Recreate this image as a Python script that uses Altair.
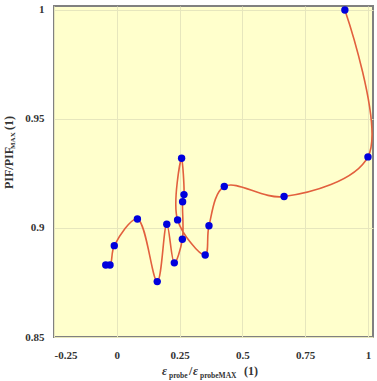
import altair as alt
import pandas as pd

# data (in curve order)
eps_ratio = [-0.044, -0.027, -0.010, 0.082, 0.161, 0.199, 0.229, 0.261, 0.262, 0.2675, 0.258, 0.242, 0.352, 0.367, 0.428, 0.666, 1.000, 0.908]
pif_ratio = [0.8830, 0.8830, 0.8919, 0.9041, 0.8754, 0.9017, 0.8840, 0.8948, 0.9120, 0.9153, 0.9320, 0.9037, 0.8876, 0.9010, 0.9190, 0.9144, 0.9326, 1.0000]
order = list(range(len(eps_ratio)))

x_ticks = [-0.25, 0, 0.25, 0.5, 0.75, 1]
y_ticks = [0.85, 0.9, 0.95, 1]

df = pd.DataFrame({"x": eps_ratio, "y": pif_ratio, "o": order})

W, H = 319, 331
FONT = "Liberation Serif"

xs = alt.Scale(domain=[-0.25, 1.02], nice=False, zero=False)
ys = alt.Scale(domain=[0.85, 1.0018], nice=False, zero=False)

xax = alt.Axis(values=x_ticks, labelExpr="'' + datum.value", title=None,
               grid=True, gridColor="#e6e6bd", ticks=False, domain=False,
               labelFont=FONT, labelFontWeight="bold", labelFontSize=11,
               labelColor="#333333", labelPadding=12)
yax = alt.Axis(values=y_ticks, labelExpr="'' + datum.value", title=None,
               grid=True, gridColor="#e6e6bd", ticks=False, domain=False,
               labelFont=FONT, labelFontWeight="bold", labelFontSize=11,
               labelColor="#333333", labelPadding=10)

base = alt.Chart(df)

line = base.mark_line(interpolate="catmull-rom", color="#e2603e", strokeWidth=1.6).encode(
    x=alt.X("x:Q", scale=xs, axis=xax),
    y=alt.Y("y:Q", scale=ys, axis=yax),
    order="o:Q",
)

pts = base.mark_circle(size=55, color="#0000dd", opacity=1).encode(
    x=alt.X("x:Q", scale=xs),
    y=alt.Y("y:Q", scale=ys),
)

# titles built from text pieces (with subscripts)
ytitle_parts = [
    ("PIF/PIF", 12, -41.5, 183),
    ("MAX", 7, -39.5, 143),
    ("(1)", 12, -41.5, 124),
]
xtitle_parts = [
    ("ε", 12, 108, 369, "italic"),
    ("probe", 7.5, 115, 372, "normal"),
    ("/", 12, 135, 369, "normal"),
    ("ε", 12, 139, 369, "italic"),
    ("probeMAX", 7.5, 146, 372, "normal"),
    ("(1)", 12, 190, 369, "normal"),
]

layers = [line, pts]
for txt, fs, xx, yy in ytitle_parts:
    layers.append(
        alt.Chart(pd.DataFrame({"t": [txt]})).mark_text(
            angle=270, align="left", baseline="alphabetic", font=FONT,
            fontWeight="bold", fontSize=fs, color="#333333"
        ).encode(x=alt.value(xx), y=alt.value(yy), text="t:N")
    )
for txt, fs, xx, yy, st in xtitle_parts:
    layers.append(
        alt.Chart(pd.DataFrame({"t": [txt]})).mark_text(
            align="left", baseline="alphabetic", font=FONT,
            fontWeight="bold", fontSize=fs, fontStyle=st, color="#333333"
        ).encode(x=alt.value(xx), y=alt.value(yy), text="t:N")
    )

chart = alt.layer(*layers).properties(
    width=W, height=H,
    autosize=alt.AutoSizeParams(type="none"),
    padding={"left": 54, "top": 6, "right": 4, "bottom": 44},
    background="white",
).configure_view(
    fill="#ffffcc", stroke="#808080", strokeWidth=2
)

chart.save("out.html", embed_options={"renderer": "svg", "actions": False})
